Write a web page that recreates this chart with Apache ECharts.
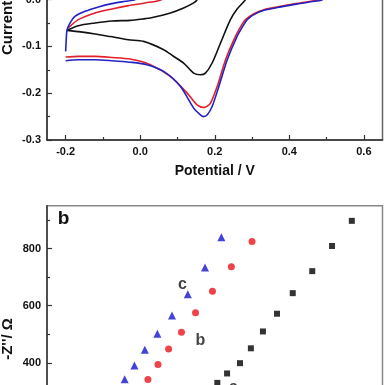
<!DOCTYPE html>
<html><head><meta charset="utf-8">
<script src="https://cdn.jsdelivr.net/npm/echarts@6/dist/echarts.min.js"></script>
<style>
html,body{margin:0;padding:0;width:385px;height:385px;overflow:hidden;background:#fff;}
#c{position:absolute;left:0;top:-100px;width:385px;height:620px;}
</style></head><body>
<div id="c"></div>
<script>
// ---- Panel a: cyclic voltammograms [Potential (V), Current] ----
const cvBlack = [[-0.1965,-0.0657],[-0.166,-0.0557],[-0.121,-0.0499],[-0.076,-0.0456],[-0.027,-0.0443],[0.0135,-0.0407],[0.027,-0.0392],[0.081,-0.0285],[0.1165,-0.0178],[0.1435,-0.0071],[0.1526,0.0],
  [0.17,0.035],[0.2,0.085],[0.23,0.115],[0.26,0.12],[0.29,0.105],[0.31,0.085],[0.33,0.07],[0.31,0.04],[0.295,0.018],
  [0.2826,0.0],[0.26,-0.02],[0.242,-0.0428],[0.2155,-0.0927],[0.193,-0.1355],[0.175,-0.157],[0.1615,-0.1606],[0.1435,-0.157],[0.1165,-0.1355],[0.089,-0.121],[0.063,-0.107],[0.009,-0.0893],[-0.0315,-0.0857],[-0.08,-0.079],[-0.121,-0.0734],[-0.16,-0.069],[-0.1965,-0.0657]];
const cvRed = [[-0.193,-0.0606],[-0.166,-0.0428],[-0.121,-0.0285],[-0.076,-0.020],[-0.0315,-0.0128],[0.0135,-0.0071],[0.058,0.0],
  [0.12,0.04],[0.2,0.1],[0.25,0.13],[0.3,0.11],[0.35,0.065],[0.42,0.032],[0.485,0.018],
  [0.485,0.001],[0.4665,-0.0025],[0.422,-0.008],[0.377,-0.0145],[0.332,-0.0215],[0.305,-0.030],[0.2826,-0.0428],[0.274,-0.052],[0.2555,-0.0786],[0.229,-0.1285],[0.2065,-0.1857],[0.1885,-0.2212],[0.172,-0.2305],[0.1526,-0.2248],[0.126,-0.1998],[0.081,-0.1642],[0.027,-0.139],[-0.027,-0.127],[-0.076,-0.1236],[-0.121,-0.1214],[-0.166,-0.1214],[-0.2,-0.1227]];
const cvBlue = [[-0.2,-0.1107],[-0.1985,-0.088],[-0.1965,-0.0657],[-0.188,-0.0499],[-0.175,-0.0358],[-0.148,-0.025],[-0.112,-0.0156],[-0.076,-0.0086],[-0.04,-0.0036],[-0.0135,0.0],
  [0.05,0.03],[0.15,0.09],[0.22,0.14],[0.26,0.15],[0.3,0.12],[0.35,0.07],[0.42,0.035],[0.49,0.02],
  [0.489,0.0],[0.4665,-0.0036],[0.422,-0.0092],[0.377,-0.0156],[0.332,-0.0229],[0.305,-0.0321],[0.287,-0.0428],[0.278,-0.0535],[0.26,-0.0786],[0.2335,-0.1285],[0.211,-0.1857],[0.193,-0.2285],[0.18,-0.246],[0.17,-0.25],[0.1615,-0.2463],[0.1435,-0.2319],[0.108,-0.1857],[0.063,-0.1535],[0.018,-0.139],[-0.027,-0.1338],[-0.076,-0.1306],[-0.121,-0.1285],[-0.166,-0.1285],[-0.2,-0.1306]];
const cvXMajor = [-0.2,0.0,0.2,0.4,0.6];
const cvXMinor = [-0.1,0.1,0.3,0.5];

// ---- Panel b: Nyquist plot [Z' (ohm), -Z'' (ohm)] ----
const eisA = [[594,330],[628,363],[673,399],[711,451],[753,510],[802,572],[857,644],[925,721],[994,809],[1063,897]];
const eisB = [[352,342],[387,394],[424,449],[469,507],[518,575],[577,651],[643,736],[715,825]];
const eisC = [[271,343],[305,391],[341,446],[385,502],[436,566],[491,640],[551,734],[608,840]];
const eisXTicks = [0,200,400,600,800,1000];
const eisYMajor = [0,200,400,600,800];
const eisYMinor = [100,300,500,700,900];
const eisLabels = [{name:'c',value:[472,673]},{name:'b',value:[535,477]},{name:'a',value:[650,312]}];

const FONT = 'Liberation Sans';
const lbl = {color:'#111',fontWeight:'bold',fontSize:11,fontFamily:FONT};
const axLine = {show:true,onZero:false,lineStyle:{color:'#333',width:1.5}};
const noLine = {show:false,onZero:false};

const chart = echarts.init(document.getElementById('c'), null, {renderer:'canvas'});
chart.setOption({
  animation:false,
  backgroundColor:'#fff',
  grid:[
    {left:47,top:6,width:335.5,height:234,show:true,borderColor:'#666',borderWidth:1.5,backgroundColor:'transparent'},
    {left:47,top:305.7,width:335.5,height:271.5,show:true,borderColor:'#888',borderWidth:1.5,backgroundColor:'transparent'}
  ],
  xAxis:[
    {gridIndex:0,type:'value',min:-0.25,max:0.65,position:'bottom',axisLine:axLine,splitLine:{show:false},
     axisTick:{inside:true,length:5,customValues:cvXMajor,lineStyle:{color:'#333',width:1.2}},
     axisLabel:Object.assign({margin:6,customValues:cvXMajor,formatter:v=>v.toFixed(1)},lbl),
     name:'Potential / V',nameLocation:'middle',nameGap:24,
     nameTextStyle:{color:'#111',fontWeight:'bold',fontSize:14,fontFamily:FONT}},
    {gridIndex:0,type:'value',min:-0.25,max:0.65,position:'bottom',axisLine:noLine,splitLine:{show:false},
     axisTick:{inside:true,length:3,customValues:cvXMinor,lineStyle:{color:'#333',width:1.2}},
     axisLabel:{show:false}},
    {gridIndex:1,type:'value',min:0,max:1170,interval:130,position:'bottom',axisLine:axLine,splitLine:{show:false},
     axisTick:{inside:true,length:5,customValues:eisXTicks,lineStyle:{color:'#333'}},
     axisLabel:Object.assign({customValues:eisXTicks},lbl)}
  ],
  yAxis:[
    {gridIndex:0,type:'value',min:-0.3,max:0.2,interval:0.1,position:'left',axisLine:axLine,splitLine:{show:false},
     axisTick:{inside:true,length:5,lineStyle:{color:'#333',width:1.2}},
     minorTick:{show:true,splitNumber:2,length:3,lineStyle:{color:'#333',width:1.2}},
     axisLabel:Object.assign({margin:6,formatter:v=>v.toFixed(1)},lbl)},
    {gridIndex:1,type:'value',min:0,max:950,position:'left',axisLine:axLine,splitLine:{show:false},
     axisTick:{inside:true,length:5,customValues:eisYMajor,lineStyle:{color:'#333',width:1.2}},
     axisLabel:Object.assign({margin:6,customValues:eisYMajor},lbl)},
    {gridIndex:1,type:'value',min:0,max:950,position:'left',axisLine:noLine,splitLine:{show:false},
     axisTick:{inside:true,length:3,customValues:eisYMinor,lineStyle:{color:'#333',width:1.2}},
     axisLabel:{show:false}}
  ],
  series:[
    {type:'line',xAxisIndex:0,yAxisIndex:0,data:cvBlack,showSymbol:false,smooth:0.25,lineStyle:{color:'#111',width:1.6}},
    {type:'line',xAxisIndex:0,yAxisIndex:0,data:cvRed,showSymbol:false,smooth:0.25,lineStyle:{color:'#e3202a',width:1.6}},
    {type:'line',xAxisIndex:0,yAxisIndex:0,data:cvBlue,showSymbol:false,smooth:0.25,lineStyle:{color:'#2222c4',width:1.6}},
    {type:'scatter',xAxisIndex:2,yAxisIndex:1,data:eisA,symbol:'rect',symbolSize:6,itemStyle:{color:'#000'}},
    {type:'scatter',xAxisIndex:2,yAxisIndex:1,data:eisB,symbol:'circle',symbolSize:7,itemStyle:{color:'#e8141c'}},
    {type:'scatter',xAxisIndex:2,yAxisIndex:1,data:eisC,symbol:'triangle',symbolSize:8,itemStyle:{color:'#1414cc'}},
    {type:'scatter',xAxisIndex:2,yAxisIndex:1,data:eisLabels,symbolSize:0,
     label:{show:true,position:'inside',formatter:p=>p.name,color:'#111',fontWeight:'bold',fontSize:16,fontFamily:FONT}}
  ],
  graphic:[
    {type:'text',x:8,y:155,rotation:Math.PI/2,style:{text:'Current / mA',fill:'#111',font:'bold 15px "Liberation Sans"',textAlign:'left',align:'left',textVerticalAlign:'middle',verticalAlign:'middle'}},
    {type:'text',x:8,y:439,rotation:Math.PI/2,style:{text:"-Z''/ Ω",fill:'#111',font:'bold 15px "Liberation Sans"',textAlign:'center',align:'center',textVerticalAlign:'middle',verticalAlign:'middle'}},
    {type:'text',x:63.5,y:318.5,style:{text:'b',fill:'#111',font:'bold 19px "Liberation Sans"',textAlign:'center',align:'center',textVerticalAlign:'middle',verticalAlign:'middle'}}
  ]
});
</script>
</body></html>
